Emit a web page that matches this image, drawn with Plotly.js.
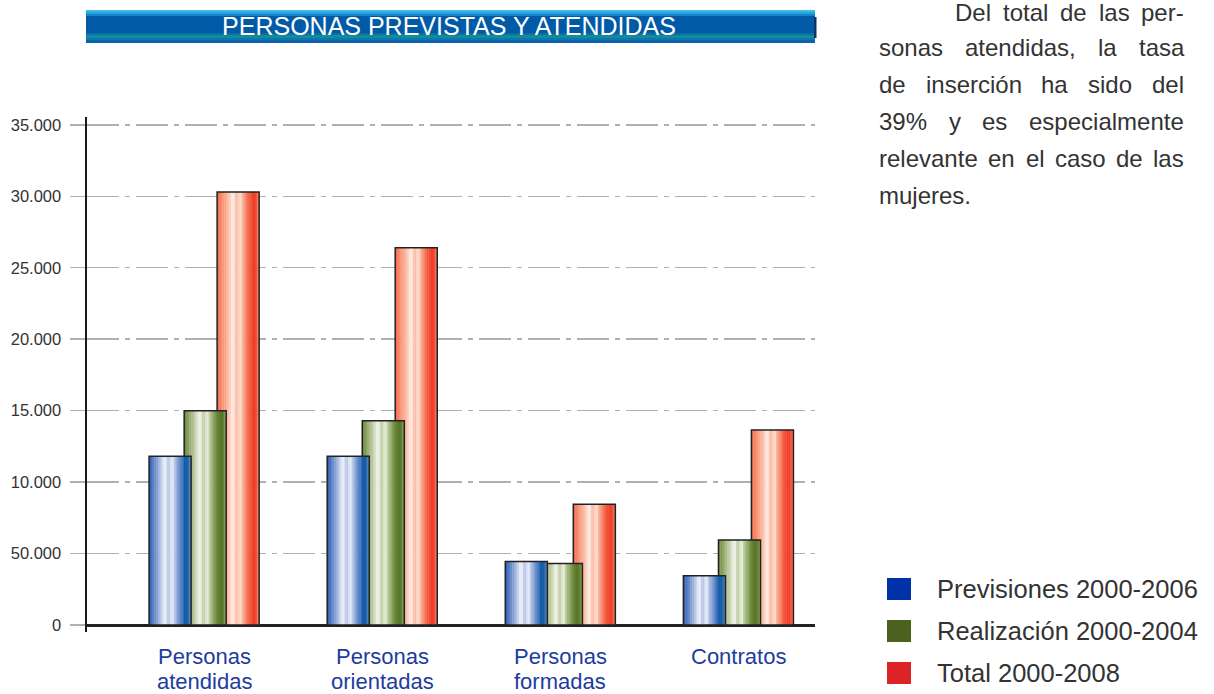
<!DOCTYPE html>
<html>
<head>
<meta charset="utf-8">
<script src="https://cdn.plot.ly/plotly-3.0.1.min.js"></script>
<style>
  html, body { margin: 0; padding: 0; background: #fff; }
  #chart { width: 1214px; height: 694px; }
</style>
</head>
<body>
<div id="chart"></div>
<script>
// ---------------- DATA ----------------
const categories = ["Personas<br>atendidas", "Personas<br>orientadas", "Personas<br>formadas", "Contratos"];
const seriesNames = ["Previsiones 2000-2006", "Realización 2000-2004", "Total 2000-2008"];
const previsiones = [11800, 11800, 4450, 3450];
const realizacion = [15000, 14300, 4300, 5950];
const total = [30300, 26400, 8450, 13650];
const tickVals = [0, 5000, 10000, 15000, 20000, 25000, 30000, 35000];
const tickText = ["0", "50.000", "10.000", "15.000", "20.000", "25.000", "30.000", "35.000"];
const chartTitle = "PERSONAS PREVISTAS Y ATENDIDAS";
const paragraphLines = [
  "Del total de las per-",
  "sonas atendidas, la tasa",
  "de inserción ha sido del",
  "39% y es especialmente",
  "relevante en el caso de las",
  "mujeres."
];

// ---------------- STYLE ----------------
const FONT = "'Liberation Sans', Arial, Helvetica, sans-serif";
const W = 1214, H = 694;
const M = { l: 87, r: 399, t: 117, b: 62 };
const PW = W - M.l - M.r, PH = H - M.t - M.b;
const px2x = px => (px - M.l) / PW;
const py2y = py => (H - M.b - py) / PH;

const legendColors = ["#0033aa", "#4b611f", "#dc2328"];
const gradients = [
  [[0,'#2b5eae'],[0.15,'#6f8fcc'],[0.3,'#c3cfea'],[0.38,'#f5f7fc'],[0.46,'#aebee2'],[0.55,'#eef2fa'],[0.63,'#a2b6df'],[0.78,'#4a78c0'],[0.87,'#0b5aa8'],[0.93,'#1d62ae'],[1,'#7b9ad2']],
  [[0,'#6b8a3c'],[0.15,'#9bb072'],[0.3,'#d4ddc1'],[0.38,'#f6f8f0'],[0.46,'#b9c99c'],[0.55,'#eef2e4'],[0.63,'#a9bd86'],[0.78,'#6c8a3c'],[0.87,'#4f7322'],[0.93,'#5c7d2d'],[1,'#9db478']],
  [[0,'#f26a4a'],[0.15,'#f89a7c'],[0.3,'#fcc9b4'],[0.38,'#fff5f0'],[0.46,'#fcb49b'],[0.55,'#fde3d8'],[0.63,'#f9a083'],[0.78,'#f25a3c'],[0.87,'#ee3524'],[0.93,'#f24b32'],[1,'#f8876a']]
];
const offsets = [-0.309, -0.112, 0.073];
const barW = 0.236;
const NSTRIP = 24;

function hex2rgb(h) { return [parseInt(h.substr(1,2),16), parseInt(h.substr(3,2),16), parseInt(h.substr(5,2),16)]; }
function sample(stops, t) {
  for (let i = 0; i < stops.length - 1; i++) {
    const [t0, c0] = stops[i], [t1, c1] = stops[i+1];
    if (t >= t0 && t <= t1) {
      const f = (t - t0) / (t1 - t0), a = hex2rgb(c0), b = hex2rgb(c1);
      return 'rgb(' + a.map((v, k) => Math.round(v + (b[k] - v) * f)).join(',') + ')';
    }
  }
  return stops[stops.length-1][1];
}

const seriesValues = [previsiones, realizacion, total];
const traces = [];
// draw red first, then green, then blue (blue in front)
[2, 1, 0].forEach(s => {
  for (let i = 0; i < NSTRIP; i++) {
    traces.push({
      type: 'bar', x: categories, y: seriesValues[s],
      offset: offsets[s] + barW * i / NSTRIP,
      width: barW / NSTRIP * 1.2,
      marker: { color: sample(gradients[s], (i + 0.5) / NSTRIP), line: { width: 0 } },
      showlegend: false, hoverinfo: 'skip'
    });
  }
  traces.push({
    type: 'bar', x: categories, y: seriesValues[s], name: seriesNames[s],
    offset: offsets[s], width: barW,
    marker: { color: 'rgba(0,0,0,0)', line: { color: '#222222', width: 1.5 } },
    showlegend: false, hoverinfo: 'skip'
  });
});

// ---------------- SHAPES (title band, legend swatches) ----------------
const shapes = [];
function band(y0, y1, color) {
  shapes.push({ type: 'rect', xref: 'paper', yref: 'paper', layer: 'below',
    x0: px2x(86), x1: px2x(815), y0: py2y(y1), y1: py2y(y0),
    fillcolor: color, line: { width: 0 } });
}
band(10, 43, '#0a5fa8');
band(10, 12, '#3fb8e8');
band(12, 14, '#25a2dc');
band(14, 16, '#1286c8');
band(16, 33, '#005aa6');
band(33, 35, '#0a6fa6');
band(35, 38, '#128c9c');
band(38, 40, '#0d78a8');
band(40, 43, '#0b62ae');
shapes.push({ type: 'rect', xref: 'paper', yref: 'paper', layer: 'below',
  x0: px2x(814), x1: px2x(816.5), y0: py2y(38), y1: py2y(17),
  fillcolor: '#0a3566', line: { width: 0 } });

const annotations = [];
const legendY = [589, 631, 673];
seriesNames.forEach((nm, i) => {
  shapes.push({ type: 'rect', xref: 'paper', yref: 'paper',
    x0: px2x(887), x1: px2x(911), y0: py2y(legendY[i] + 11), y1: py2y(legendY[i] - 11),
    fillcolor: legendColors[i], line: { width: 0 } });
  annotations.push({ xref: 'paper', yref: 'paper', x: px2x(935), y: py2y(legendY[i]),
    xanchor: 'left', yanchor: 'middle', showarrow: false, text: nm,
    font: { family: FONT, size: 25.5, color: '#333333' } });
});

// ---------------- CATEGORY LABELS (two tight lines) ----------------
const catLineY = [656.5, 681.5];
categories.forEach((c, ci) => {
  c.split('<br>').forEach((part, k) => {
    annotations.push({ xref: 'x', yref: 'paper', x: ci, y: py2y(catLineY[k]),
      xanchor: 'center', yanchor: 'middle', showarrow: false, text: part, borderpad: 0,
      font: { family: FONT, size: 22, color: '#1d3c9e' } });
  });
});

// ---------------- PARAGRAPH (justified) ----------------
const PFONT_SIZE = 24;
const ctx = document.createElement('canvas').getContext('2d');
ctx.font = PFONT_SIZE + "px 'Liberation Sans'";
const lineY = [12, 47, 84, 121, 158, 195];
const leftX = 879, rightX = 1184;
paragraphLines.forEach((line, li) => {
  const words = line.split(' ');
  const start = li === 0 ? 955 : leftX;
  const isLast = li === paragraphLines.length - 1;
  const widths = words.map(w => ctx.measureText(w).width);
  const sum = widths.reduce((a, b) => a + b, 0);
  const gap = (isLast || words.length < 2) ? ctx.measureText(' ').width : (rightX - start - sum) / (words.length - 1);
  let x = start;
  words.forEach((w, wi) => {
    annotations.push({ xref: 'paper', yref: 'paper', x: px2x(x - 1), y: py2y(lineY[li]),
      xanchor: 'left', yanchor: 'middle', showarrow: false, text: w, borderpad: 0,
      font: { family: FONT, size: PFONT_SIZE, color: '#333333' } });
    x += widths[wi] + gap;
  });
});

// ---------------- LAYOUT ----------------
const layout = {
  width: W, height: H,
  margin: M,
  paper_bgcolor: '#ffffff', plot_bgcolor: '#ffffff',
  barmode: 'overlay',
  showlegend: false,
  font: { family: FONT, color: '#333333' },
  title: { text: chartTitle, font: { family: FONT, size: 25, color: '#ffffff' },
    xref: 'container', yref: 'container', x: 449 / W, xanchor: 'center', y: 1 - 26 / H, yanchor: 'middle' },
  xaxis: {
    type: 'category', range: [-0.6575, 3.43], fixedrange: true,
    showgrid: false, showline: false, zeroline: false, ticks: '', showticklabels: false
  },
  yaxis: {
    range: [-490, 35546], fixedrange: true,
    tickvals: tickVals, ticktext: tickText,
    tickfont: { family: FONT, size: 16.5, color: '#333333' },
    ticks: 'outside', ticklen: 15, tickwidth: 1.5, tickcolor: '#b0b0b0',
    ticklabelstandoff: 5,
    showgrid: true, gridcolor: '#b0b0b0', gridwidth: 1.5, griddash: '32px,6px,5px,6px',
    showline: true, linecolor: '#1a1a1a', linewidth: 2.5,
    zeroline: true, zerolinecolor: '#222222', zerolinewidth: 3
  },
  shapes: shapes,
  annotations: annotations
};

Plotly.newPlot('chart', traces, layout, { displayModeBar: false, staticPlot: true });
</script>
</body>
</html>
